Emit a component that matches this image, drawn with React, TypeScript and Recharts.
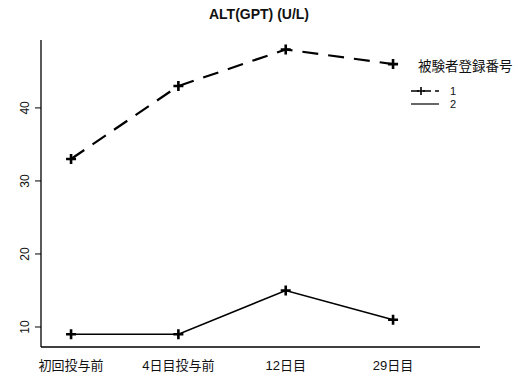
import React from "react";
import { LineChart, Line, XAxis, YAxis } from "recharts";

const categories = ["初回投与前", "4日目投与前", "12日目", "29日目"];
const subject1 = [33, 43, 48, 46];
const subject2 = [9, 9, 15, 11];
const yTicks = [10, 20, 30, 40];
const legendTitle = "被験者登録番号";
const seriesNames = ["1", "2"];

const data = categories.map((c, i) => ({ idx: i, cat: c, s1: subject1[i], s2: subject2[i] }));

const FONT = "'Liberation Sans', Arial, 'Noto Sans CJK JP', sans-serif";

const Cross = (props: any) => {
  const { cx, cy } = props;
  if (cx == null || cy == null) return null;
  return (
    <path
      d={`M${cx - 5},${cy} L${cx + 5},${cy} M${cx},${cy - 5} L${cx},${cy + 5}`}
      stroke="#000"
      strokeWidth={2.6}
      fill="none"
    />
  );
};

const YTick = (props: any) => {
  const { x, y, payload } = props;
  return (
    <text
      x={x - 4}
      y={y}
      transform={`rotate(-90 ${x - 4} ${y})`}
      textAnchor="middle"
      fontSize={12}
      fontFamily={FONT}
      fill="#111"
    >
      {payload.value}
    </text>
  );
};

const XTick = (props: any) => {
  const { x, y, payload } = props;
  return (
    <text x={x} y={y + 15} textAnchor="middle" fontSize={13} fontFamily={FONT} fill="#111">
      {categories[payload.value]}
    </text>
  );
};

export default function App() {
  return (
    <div style={{ position: "absolute", left: 0, top: 0, width: 518, height: 380, background: "#fff" }}>
      <div
        style={{
          position: "absolute",
          left: 0,
          top: 6,
          width: 518,
          textAlign: "center",
          fontFamily: FONT,
          fontSize: 14,
          fontWeight: "bold",
          color: "#111",
        }}
      >
        ALT(GPT) (U/L)
      </div>
      <svg width={110} height={60} style={{ position: "absolute", left: 411, top: 58, overflow: "visible" }}>
        <text x={7} y={13} fontSize={13.5} fontFamily={FONT} fill="#111">
          {legendTitle}
        </text>
        <line x1={0} y1={33} x2={28} y2={33} stroke="#000" strokeWidth={1.5} strokeDasharray="8 4" />
        <path d="M10,29 L10,37 M6,33 L14,33" stroke="#000" strokeWidth={1.6} />
        <text x={39} y={37} fontSize={11} fontFamily={FONT} fill="#111">
          {seriesNames[0]}
        </text>
        <line x1={0} y1={46} x2={28} y2={46} stroke="#000" strokeWidth={1.2} />
        <text x={39} y={50} fontSize={11} fontFamily={FONT} fill="#111">
          {seriesNames[1]}
        </text>
      </svg>
      <LineChart width={518} height={380} data={data} margin={{ top: 40, right: 38, left: 11, bottom: 3 }}>
        <XAxis
          type="number"
          dataKey="idx"
          domain={[-0.28, 3.81]}
          ticks={[0, 1, 2, 3]}
          allowDataOverflow
          tickLine={false}
          axisLine={{ stroke: "#000", strokeWidth: 1.3 }}
          tick={<XTick />}
          height={30}
        />
        <YAxis
          type="number"
          domain={[7.26, 49.3]}
          ticks={yTicks}
          allowDataOverflow
          width={30}
          tickSize={6}
          tickLine={{ stroke: "#000" }}
          axisLine={{ stroke: "#000", strokeWidth: 1.3 }}
          tick={<YTick />}
        />
        <Line
          dataKey="s1"
          name={seriesNames[0]}
          stroke="#000"
          strokeWidth={2.2}
          strokeDasharray="16 10"
          dot={<Cross />}
          isAnimationActive={false}
        />
        <Line
          dataKey="s2"
          name={seriesNames[1]}
          stroke="#000"
          strokeWidth={1.6}
          dot={<Cross />}
          isAnimationActive={false}
        />
      </LineChart>
    </div>
  );
}
